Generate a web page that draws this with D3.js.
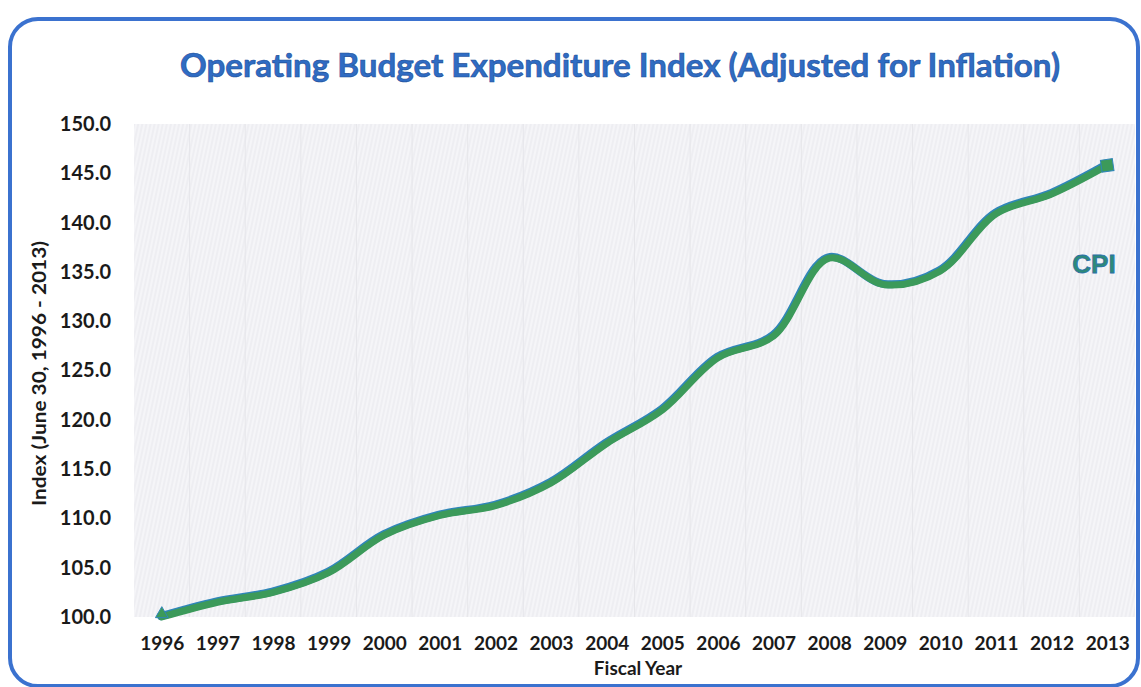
<!DOCTYPE html>
<html>
<head>
<meta charset="utf-8">
<script src="https://cdn.jsdelivr.net/npm/d3@7"></script>
<style>
  html, body { margin: 0; padding: 0; background: #ffffff; }
  svg { display: block; }
</style>
</head>
<body>
<svg id="chart" width="1141" height="687"></svg>
<script>
// Fiscal years and CPI-adjusted operating budget index (June 30 base = 100)
const years = ["1996","1997","1998","1999","2000","2001","2002","2003","2004","2005",
               "2006","2007","2008","2009","2010","2011","2012","2013"];
const cpiIndex = [100.0, 101.5, 102.5, 104.5, 108.3, 110.3, 111.3, 113.6, 117.6, 121.0,
                  126.3, 128.5, 136.4, 133.7, 135.1, 140.9, 142.9, 145.8];
const yTicks = [100, 105, 110, 115, 120, 125, 130, 135, 140, 145, 150];

const svg = d3.select("#chart");
const W = 1141, H = 687;
const plot = { left: 134, right: 1135, top: 124, bottom: 617 };
const FONT = "Lato, 'Open Sans', sans-serif";

// Frame
svg.append("rect")
  .attr("x", 10).attr("y", 19).attr("width", W - 13).attr("height", H - 20)
  .attr("rx", 28).attr("ry", 28)
  .attr("fill", "#ffffff").attr("stroke", "#3b72cf").attr("stroke-width", 4);

// Plot-area texture
const defs = svg.append("defs");
const pat = defs.append("pattern")
  .attr("id", "weave").attr("patternUnits", "userSpaceOnUse")
  .attr("width", 4).attr("height", 12)
  .attr("patternTransform", "rotate(12)");
pat.append("rect").attr("width", 4).attr("height", 12).attr("fill", "#f5f5f8");
pat.append("line").attr("x1", 1).attr("y1", 0).attr("x2", 1).attr("y2", 12)
  .attr("stroke", "#e3e3e8").attr("stroke-width", 0.8);

const x = d3.scalePoint().domain(years)
  .range([plot.left, plot.right]).padding(0.5);
const y = d3.scaleLinear().domain([100, 150]).range([plot.bottom, plot.top]);

svg.append("rect")
  .attr("x", plot.left).attr("y", plot.top)
  .attr("width", plot.right - plot.left).attr("height", plot.bottom - plot.top)
  .attr("fill", "url(#weave)");

// faint vertical gridlines between categories
const step = x.step();
svg.append("g").selectAll("line").data(years.slice(1))
  .join("line")
  .attr("x1", d => x(d) - step / 2).attr("x2", d => x(d) - step / 2)
  .attr("y1", plot.top).attr("y2", plot.bottom)
  .attr("stroke", "#e6e6ea").attr("stroke-width", 1);

// Title
svg.append("text")
  .attr("x", 620).attr("y", 77)
  .attr("text-anchor", "middle")
  .attr("font-family", FONT)
  .attr("font-weight", "bold").attr("font-size", 32)
  .attr("textLength", 880).attr("lengthAdjust", "spacingAndGlyphs")
  .attr("fill", "#2f6cc3")
  .attr("stroke", "#1f4f99").attr("stroke-width", 0.6)
  .text("Operating Budget Expenditure Index (Adjusted for Inflation)");

// Y axis
const yAxis = d3.axisLeft(y).tickValues(yTicks).tickSize(0).tickPadding(23)
  .tickFormat(d3.format(".1f"));
const gy = svg.append("g").attr("transform", `translate(${plot.left},0)`).call(yAxis);
gy.select(".domain").remove();
gy.selectAll("text")
  .attr("font-family", FONT)
  .attr("font-weight", "bold").attr("font-size", 20).attr("fill", "#1a1a1a");

// X axis
const xAxis = d3.axisBottom(x).tickSize(0).tickPadding(20);
const gx = svg.append("g").attr("transform", `translate(0,${plot.bottom})`).call(xAxis);
gx.select(".domain").remove();
gx.selectAll("text")
  .attr("font-family", FONT)
  .attr("font-weight", "bold").attr("font-size", 19).attr("fill", "#1a1a1a");

// Axis titles
svg.append("text")
  .attr("x", 638).attr("y", 675).attr("text-anchor", "middle")
  .attr("font-family", FONT)
  .attr("font-weight", "bold").attr("font-size", 19).attr("fill", "#1a1a1a")
  .text("Fiscal Year");

svg.append("text")
  .attr("transform", `translate(46,${(plot.top + plot.bottom) / 2 + 3}) rotate(-90)`)
  .attr("text-anchor", "middle")
  .attr("font-family", FONT)
  .attr("font-weight", "bold").attr("font-size", 19).attr("fill", "#1a1a1a")
  .attr("textLength", 265).attr("lengthAdjust", "spacingAndGlyphs")
  .text("Index (June 30, 1996 - 2013)");

// CPI line
const line = d3.line()
  .x((d, i) => x(years[i]))
  .y(d => y(d))
  .curve(d3.curveCatmullRom.alpha(0.5));

svg.append("path").datum(cpiIndex)
  .attr("d", line)
  .attr("fill", "none")
  .attr("stroke", "#2f86b8").attr("stroke-width", 8)
  .attr("stroke-linejoin", "round").attr("stroke-linecap", "round")
  .attr("transform", "translate(-0.8,-0.8)");
svg.append("path").datum(cpiIndex)
  .attr("d", line)
  .attr("fill", "none")
  .attr("stroke", "#3c9a5a").attr("stroke-width", 7)
  .attr("stroke-linejoin", "round").attr("stroke-linecap", "round");

// end markers
const last = cpiIndex.length - 1;
svg.append("rect")
  .attr("x", x(years[last]) - 6).attr("y", y(cpiIndex[last]) - 6)
  .attr("width", 12).attr("height", 12)
  .attr("fill", "#3c9a5a").attr("stroke", "#2f86b8").attr("stroke-width", 1)
  .attr("transform", `rotate(-8,${x(years[last])},${y(cpiIndex[last])})`);
svg.append("path")
  .attr("d", d3.symbol(d3.symbolTriangle, 70)())
  .attr("transform", `translate(${x(years[0])},${y(cpiIndex[0]) - 3})`)
  .attr("fill", "#3c9a5a").attr("stroke", "#2f86b8").attr("stroke-width", 1);

// Series label
svg.append("text")
  .attr("x", 1094).attr("y", 273).attr("text-anchor", "middle")
  .attr("font-family", "'Liberation Sans', Arial, sans-serif")
  .attr("font-weight", "bold").attr("font-size", 26)
  .attr("fill", "#2d8a78").attr("stroke", "#2a6fa8").attr("stroke-width", 0.8)
  .text("CPI");
</script>
</body>
</html>
